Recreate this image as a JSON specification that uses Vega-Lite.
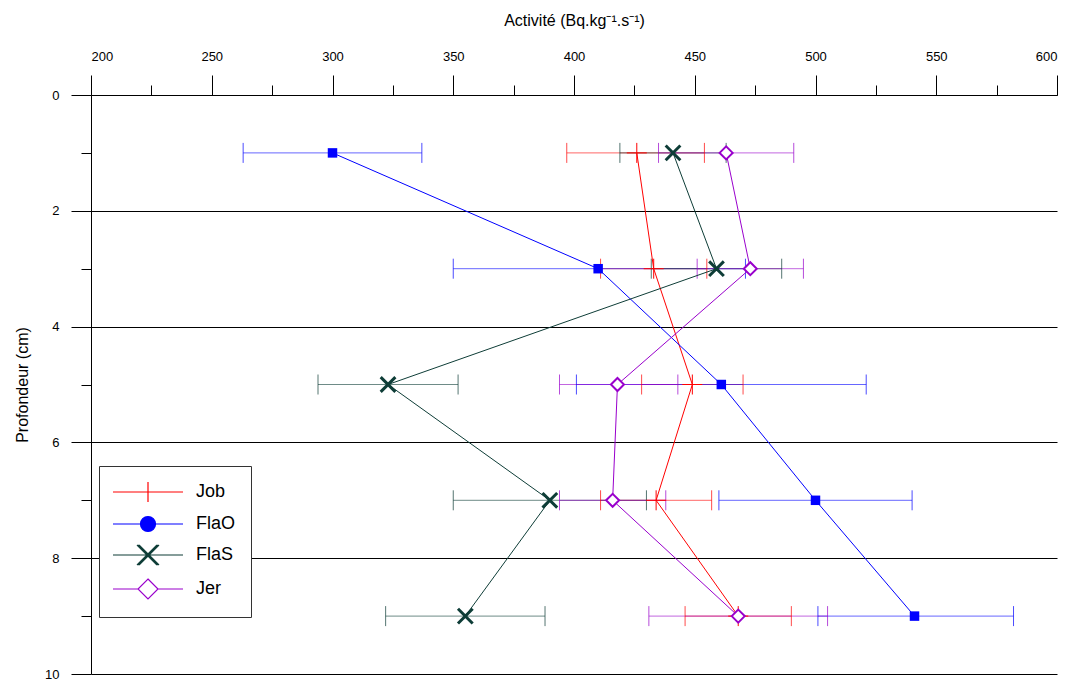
{
  "$schema": "https://vega.github.io/schema/vega-lite/v6.json",
  "width": 966,
  "height": 579,
  "autosize": {"type": "none"},
  "padding": {"left": 91, "top": 95, "right": 16, "bottom": 5},
  "background": "white",
  "config": {
    "view": {"stroke": null},
    "font": "Liberation Sans",
    "axis": {
      "labelFont": "Liberation Sans Narrow, Liberation Sans",
      "labelFontSize": 13,
      "labelColor": "#000000",
      "titleFont": "Liberation Sans",
      "titleFontSize": 16,
      "titleFontWeight": "normal",
      "titleColor": "#000000",
      "domainColor": "#000000",
      "tickColor": "#000000",
      "gridColor": "#000000"
    }
  },
  "data": {
    "values": [
      {"series": "Job", "depth": 1, "value": 426, "lo": 397, "hi": 454},
      {"series": "Job", "depth": 3, "value": 433, "lo": 411, "hi": 455},
      {"series": "Job", "depth": 5, "value": 449, "lo": 428, "hi": 470},
      {"series": "Job", "depth": 7, "value": 434, "lo": 411, "hi": 457},
      {"series": "Job", "depth": 9, "value": 468, "lo": 446, "hi": 490},
      {"series": "FlaO", "depth": 1, "value": 300, "lo": 263, "hi": 337},
      {"series": "FlaO", "depth": 3, "value": 410, "lo": 350, "hi": 471},
      {"series": "FlaO", "depth": 5, "value": 461, "lo": 401, "hi": 521},
      {"series": "FlaO", "depth": 7, "value": 500, "lo": 460, "hi": 540},
      {"series": "FlaO", "depth": 9, "value": 541, "lo": 501, "hi": 582},
      {"series": "FlaS", "depth": 1, "value": 441, "lo": 419, "hi": 463},
      {"series": "FlaS", "depth": 3, "value": 459, "lo": 432, "hi": 486},
      {"series": "FlaS", "depth": 5, "value": 323, "lo": 294, "hi": 352},
      {"series": "FlaS", "depth": 7, "value": 390, "lo": 350, "hi": 430},
      {"series": "FlaS", "depth": 9, "value": 355, "lo": 322, "hi": 388},
      {"series": "Jer", "depth": 1, "value": 463, "lo": 435, "hi": 491},
      {"series": "Jer", "depth": 3, "value": 473, "lo": 451, "hi": 495},
      {"series": "Jer", "depth": 5, "value": 418, "lo": 394, "hi": 443},
      {"series": "Jer", "depth": 7, "value": 416, "lo": 394, "hi": 438},
      {"series": "Jer", "depth": 9, "value": 468, "lo": 431, "hi": 505}
    ]
  },
  "layer": [
    {
      "mark": {"type": "rule", "strokeWidth": 1, "opacity": 0.6},
      "encoding": {
        "x": {
          "field": "lo", "type": "quantitative",
          "scale": {"domain": [200, 600], "nice": false, "zero": false},
          "axis": {
            "orient": "top",
            "values": [200, 225, 250, 275, 300, 325, 350, 375, 400, 425, 450, 475, 500, 525, 550, 575, 600],
            "format": "d",
            "labelExpr": "datum.value % 50 === 0 ? datum.label : ''",
            "tickSize": {"condition": {"test": "datum.value % 50 === 0", "value": 20}, "value": 10},
            "labelPadding": 12,
            "grid": false,
            "domain": true,
            "title": "Activité (Bq.kg⁻¹.s⁻¹)",
            "titlePadding": 22
          }
        },
        "x2": {"field": "hi"},
        "y": {
          "field": "depth", "type": "quantitative",
          "scale": {"domain": [0, 10], "reverse": true, "nice": false, "zero": false},
          "axis": {
            "orient": "left",
            "values": [0, 1, 2, 3, 4, 5, 6, 7, 8, 9, 10],
            "format": "d",
            "labelExpr": "datum.value % 2 === 0 ? datum.label : ''",
            "tickSize": {"condition": {"test": "datum.value % 2 === 0", "value": 20}, "value": 10},
            "labelPadding": 12,
            "grid": true,
            "gridOpacity": {"condition": {"test": "datum.value % 2 === 0", "value": 1}, "value": 0},
            "title": "Profondeur (cm)",
            "titlePadding": 14
          }
        },
        "color": {
          "field": "series", "type": "nominal",
          "scale": {"domain": ["Jer", "FlaS", "FlaO", "Job"], "range": ["#9900CC", "#0E3D37", "#0000FF", "#FF0000"]},
          "legend": null
        }
      }
    },
    {
      "mark": {"type": "point", "shape": "M0,-1V1", "size": 400, "filled": false, "strokeWidth": 1, "opacity": 0.7},
      "encoding": {
        "x": {"field": "lo", "type": "quantitative"},
        "y": {"field": "depth", "type": "quantitative"},
        "color": {"field": "series", "type": "nominal", "legend": null}
      }
    },
    {
      "mark": {"type": "point", "shape": "M0,-1V1", "size": 400, "filled": false, "strokeWidth": 1, "opacity": 0.7},
      "encoding": {
        "x": {"field": "hi", "type": "quantitative"},
        "y": {"field": "depth", "type": "quantitative"},
        "color": {"field": "series", "type": "nominal", "legend": null}
      }
    },
    {
      "mark": {"type": "line", "strokeWidth": 1},
      "encoding": {
        "x": {"field": "value", "type": "quantitative"},
        "y": {"field": "depth", "type": "quantitative"},
        "color": {"field": "series", "type": "nominal", "legend": null},
        "order": {"field": "depth", "type": "quantitative"}
      }
    },
    {
      "transform": [{"filter": {"field": "series", "equal": "Job"}}],
      "mark": {"type": "point", "shape": "M-1,0H1M0,-1V1", "size": 400, "filled": false, "strokeWidth": 1, "color": "#FF0000", "opacity": 1},
      "encoding": {
        "x": {"field": "value", "type": "quantitative"},
        "y": {"field": "depth", "type": "quantitative"}
      }
    },
    {
      "transform": [{"filter": {"field": "series", "equal": "FlaO"}}],
      "mark": {"type": "point", "shape": "square", "size": 90, "filled": true, "color": "#0000FF", "opacity": 1},
      "encoding": {
        "x": {"field": "value", "type": "quantitative"},
        "y": {"field": "depth", "type": "quantitative"}
      }
    },
    {
      "transform": [{"filter": {"field": "series", "equal": "FlaS"}}],
      "mark": {"type": "point", "shape": "M-1,-1L1,1M1,-1L-1,1", "size": 216, "filled": false, "strokeWidth": 3, "color": "#0E3D37", "opacity": 1},
      "encoding": {
        "x": {"field": "value", "type": "quantitative"},
        "y": {"field": "depth", "type": "quantitative"}
      }
    },
    {
      "transform": [{"filter": {"field": "series", "equal": "Jer"}}],
      "mark": {"type": "point", "shape": "diamond", "size": 169, "filled": false, "strokeWidth": 2, "color": "#9900CC", "fill": "white", "fillOpacity": 1, "opacity": 1},
      "encoding": {
        "x": {"field": "value", "type": "quantitative"},
        "y": {"field": "depth", "type": "quantitative"}
      }
    },
    {
      "mark": {"type": "point", "size": 400, "filled": false, "opacity": 0},
      "encoding": {
        "x": {"field": "value", "type": "quantitative"},
        "y": {"field": "depth", "type": "quantitative"},
        "shape": {
          "field": "series", "type": "nominal",
          "scale": {
            "domain": ["Job", "FlaO", "FlaS", "Jer"],
            "range": [
              "M-1.2,0H5.8M2.3,-1V1",
              "M-1.2,0H1.55M3.05,0H5.8M1.55,0A0.75,0.75 0 1,0 3.05,0A0.75,0.75 0 1,0 1.55,0Z",
              "M-1.2,0H5.8M1.3,-1L3.3,1M3.3,-1L1.3,1M1.2,-1L3.2,1M3.2,-1L1.2,1M1.4,-1L3.4,1M3.4,-1L1.4,1",
              "M-1.2,0H1.3M3.3,0H5.8M2.3,-1L3.3,0L2.3,1L1.3,0Z"
            ]
          },
          "legend": {
            "title": null,
            "orient": "none",
            "legendX": 8,
            "legendY": 371,
            "labelFont": "Liberation Sans",
            "labelFontSize": 18,
            "labelColor": "#000000",
            "labelOffset": 60,
            "rowPadding": 8,
            "padding": 15,
            "symbolSize": 400,
            "symbolStrokeWidth": 1.2,
            "symbolOpacity": 1,
            "strokeColor": "#333333",
            "fillColor": "white",
            "encoding": {
              "symbols": {
                "stroke": {"value": {"expr": "datum.value === 'Job' ? '#FF0000' : datum.value === 'FlaO' ? '#0000FF' : datum.value === 'FlaS' ? '#0E3D37' : '#9900CC'"}},
                "fill": {"value": {"expr": "datum.value === 'FlaO' ? '#0000FF' : datum.value === 'Jer' ? '#FFFFFF' : 'transparent'"}},
                "strokeWidth": {"value": 1.2},
                "opacity": {"value": 1},
                "size": {"value": 400}
              }
            }
          }
        }
      }
    }
  ]
}
